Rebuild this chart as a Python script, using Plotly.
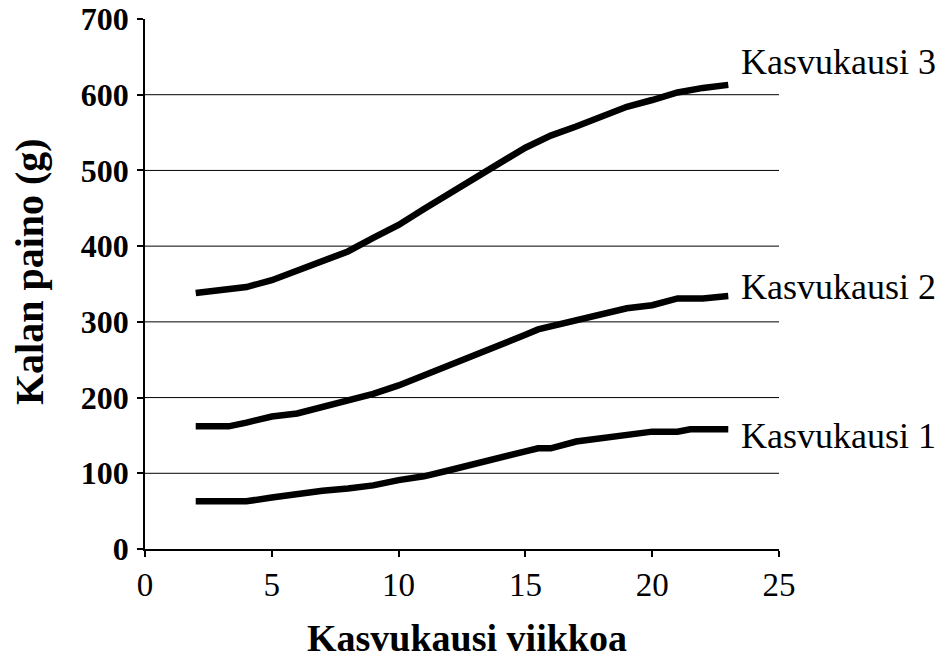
import plotly.graph_objects as go

# Data
weeks_1 = [2, 3, 4, 5, 6, 7, 8, 9, 10, 11, 12, 13, 14, 15, 15.5, 16, 17, 18, 19, 20, 21, 21.5, 22, 23]
kasvukausi_1 = [63, 63, 63, 68, 73, 77, 80, 84, 91, 96, 104, 113, 121, 129, 133, 133, 142, 147, 151, 155, 155, 158, 158, 158]

weeks_2 = [2, 3, 3.3, 4, 5, 6, 7, 8, 9, 10, 11, 12, 13, 14, 15, 15.5, 16, 17, 18, 19, 20, 21, 22, 23]
kasvukausi_2 = [162, 162, 162, 167, 175, 179, 187, 197, 205, 216, 229, 244, 257, 270, 283, 290, 294, 302, 310, 318, 322, 331, 331, 334]

weeks_3 = [2, 3, 3.5, 4, 5, 6, 7, 8, 9, 10, 11, 12, 13, 14, 15, 15.5, 16, 17, 18, 19, 20, 21, 22, 23]
kasvukausi_3 = [338, 342, 342, 346, 355, 367, 380, 393, 411, 428, 449, 470, 490, 510, 530, 538, 546, 558, 571, 584, 593, 603, 609, 613]

series_names = ["Kasvukausi 1", "Kasvukausi 2", "Kasvukausi 3"]
label_yshift = [-7, 9, 23]

x_ticks = [0, 5, 10, 15, 20, 25]
y_ticks = [0, 100, 200, 300, 400, 500, 600, 700]

x_title = "Kasvukausi viikkoa"
y_title = "Kalan paino (g)"

FONT = "Liberation Serif, Times New Roman, serif"

fig = go.Figure()
all_x = [weeks_1, weeks_2, weeks_3]
all_y = [kasvukausi_1, kasvukausi_2, kasvukausi_3]
for xs, ys, name, ysh in zip(all_x, all_y, series_names, label_yshift):
    fig.add_trace(go.Scatter(x=xs, y=ys, mode="lines", name=name,
                             line=dict(color="black", width=6.5),
                             showlegend=False))
    fig.add_annotation(x=xs[-1], y=ys[-1], text=name, showarrow=False,
                       xanchor="left", yanchor="middle", xshift=11, yshift=ysh,
                       font=dict(family=FONT, size=36, color="black"))

# horizontal gridlines (not at the axis ends)
for v in y_ticks[1:-1]:
    fig.add_hline(y=v, line=dict(color="black", width=1), layer="below")

# axis titles
fig.add_annotation(text=x_title, xref="paper", yref="paper", x=0.508, y=-0.168,
                   xanchor="center", yanchor="middle", showarrow=False,
                   font=dict(family=FONT, size=38, color="black", weight="bold"))
fig.add_annotation(text=y_title, xref="paper", yref="paper", x=-0.181, y=0.523,
                   xanchor="center", yanchor="middle", showarrow=False, textangle=-90,
                   font=dict(family=FONT, size=40, color="black", weight="bold"))

fig.update_layout(
    width=947, height=659,
    margin=dict(l=145, r=168, t=19, b=110),
    paper_bgcolor="white", plot_bgcolor="white",
    font=dict(family=FONT, color="black"),
)
fig.update_xaxes(
    range=[0, 25], tickvals=x_ticks, ticktext=[str(v) for v in x_ticks],
    showgrid=False, zeroline=False, showline=True, linecolor="black", linewidth=1.5,
    ticks="outside", ticklen=6, tickwidth=1.5, tickcolor="black", automargin=False,
    tickfont=dict(family=FONT, size=33, color="black"),
)
fig.update_yaxes(
    range=[0, 700], tickvals=y_ticks, ticktext=[str(v) for v in y_ticks],
    showgrid=False, zeroline=False, showline=True, linecolor="black", linewidth=1.5,
    ticks="outside", ticklen=6, tickwidth=1.5, tickcolor="black", automargin=False,
    ticklabelstandoff=2,
    tickfont=dict(family=FONT, size=32, color="black", weight="bold"),
)

fig.write_html("out.html", config={"displayModeBar": False},
               post_script="document.body.style.margin='0';")
